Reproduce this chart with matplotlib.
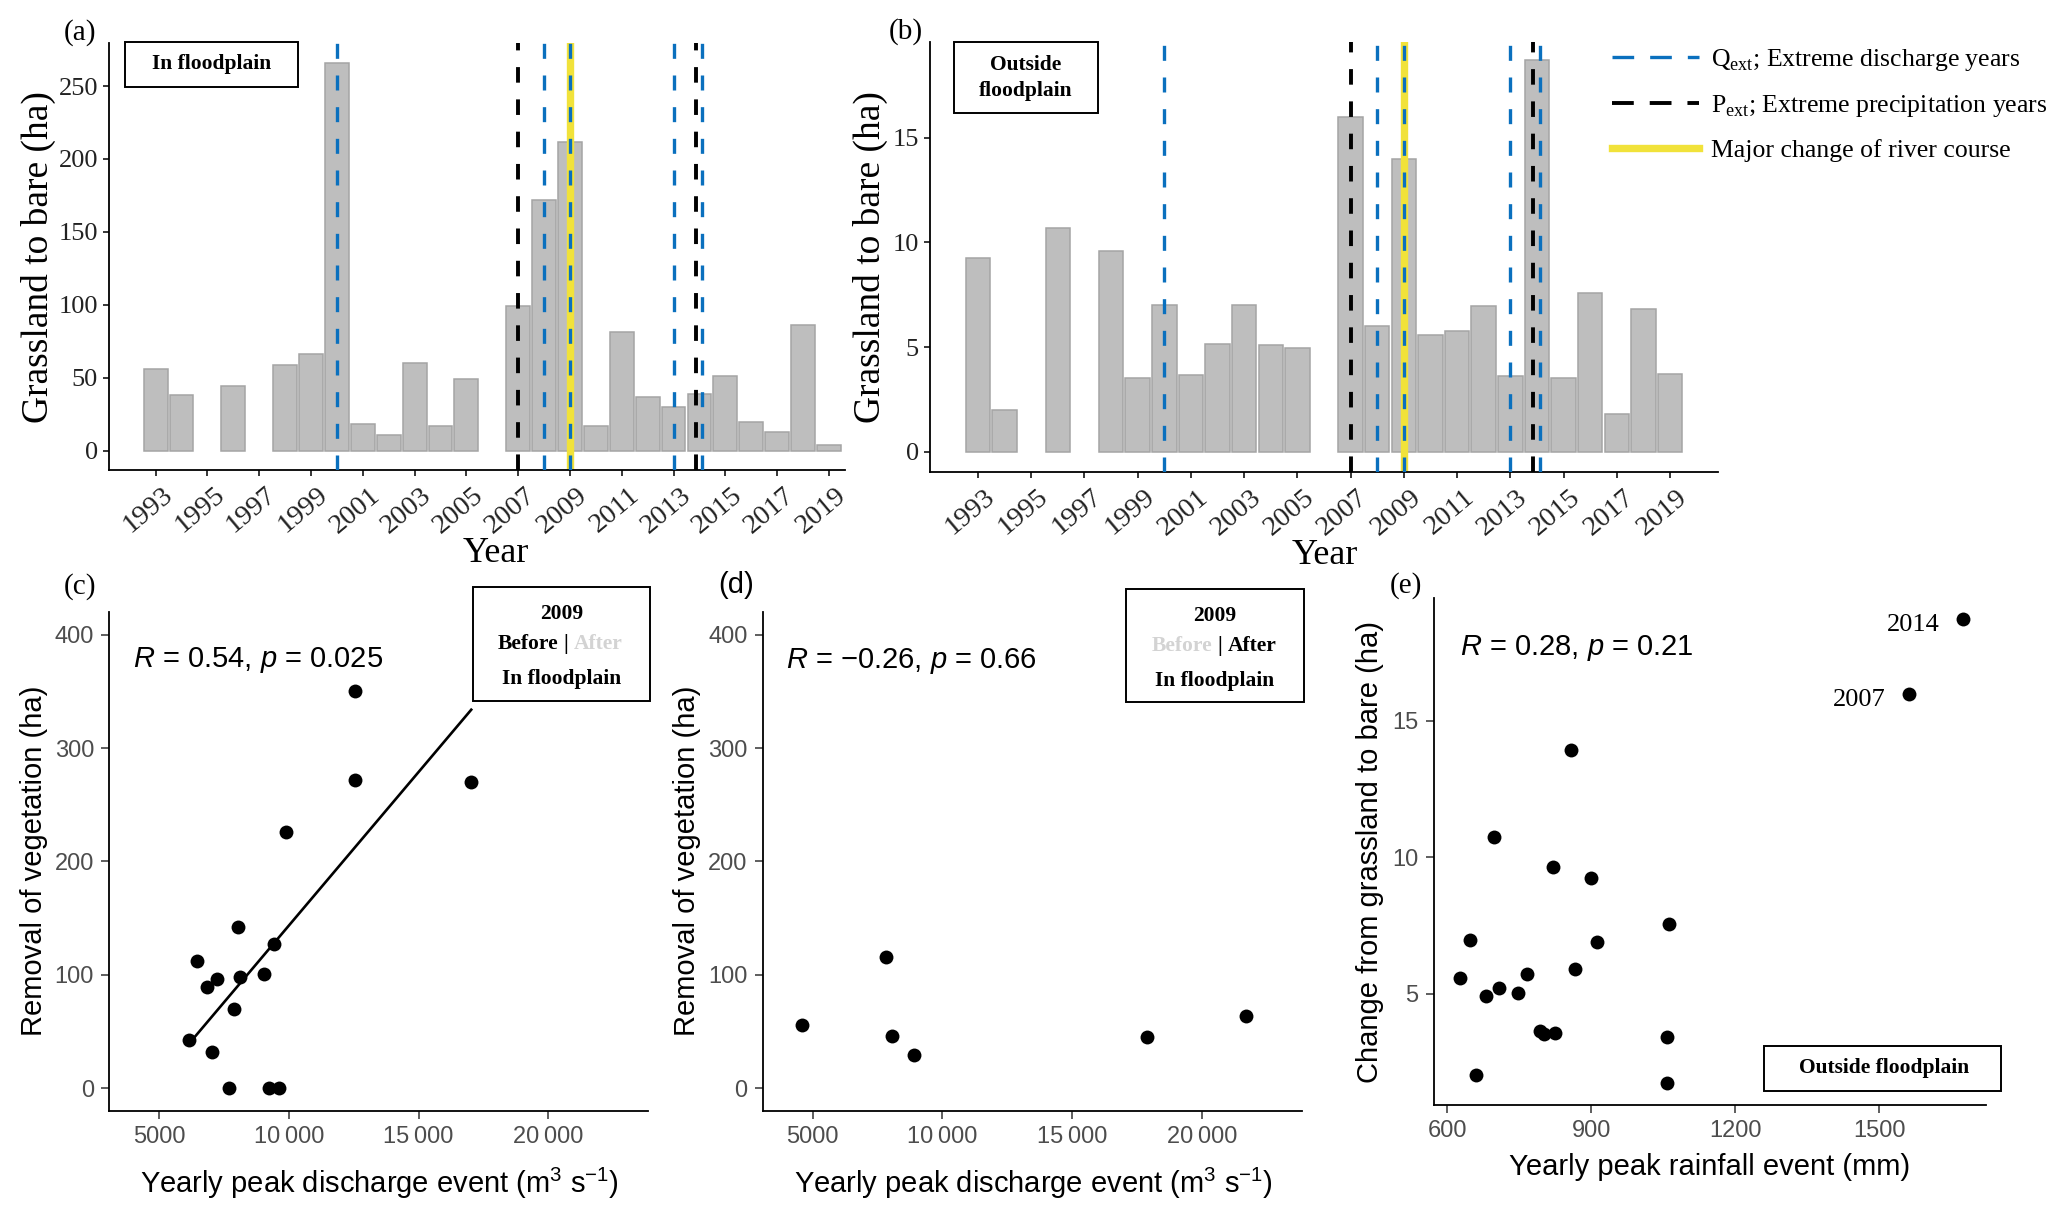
import numpy as np
import matplotlib
matplotlib.use('Agg')
import matplotlib.pyplot as plt
import matplotlib.transforms as mtransforms
from matplotlib.lines import Line2D
from matplotlib.patches import Rectangle

plt.rcParams['mathtext.fontset'] = 'custom'
plt.rcParams['mathtext.rm'] = 'Liberation Sans'
plt.rcParams['mathtext.it'] = 'Liberation Sans:italic'

SERIF = ['Liberation Serif', 'DejaVu Serif']
SANS = ['Liberation Sans', 'DejaVu Sans']

#------------------ Datos
# (a), (b) barras por año
years = [1993, 1994, 1996, 1998, 1999, 2000, 2001, 2002, 2003, 2004, 2005,
         2007, 2008, 2009, 2010, 2011, 2012, 2013, 2014, 2015, 2016, 2017, 2018, 2019]
in_floodplain = [56, 38, 44.5, 59, 66.5, 266, 18, 10.5, 60, 17, 49,
                 99, 171.5, 211.5, 17, 81, 37, 30, 39, 51.5, 19.5, 12.5, 86, 3.5]
outside_floodplain = [9.25, 2.0, 10.7, 9.6, 3.5, 7.0, 3.65, 5.15, 7.0, 5.1, 4.95,
                      16.0, 6.0, 14.0, 5.6, 5.75, 6.95, 3.6, 18.7, 3.5, 7.6, 1.8, 6.8, 3.7]
q_ext_years = [2000, 2008, 2009, 2013, 2014]
p_ext_years = [2007, 2014]
river_change_years = [2009]

# (c) antes de 2009, en llanura
discharge_before = [6170, 6480, 6850, 7250, 7030, 7710, 7890, 8050, 8110, 9050,
                    9220, 9430, 9610, 9900, 12540, 12540, 17030]
removal_before = [43, 112, 89, 96, 32, 0, 70, 142, 98, 101,
                  0, 127, 0, 226, 350, 272, 270]
stats_c = r'$R$ = 0.54, $p$ = 0.025'

# (d) después de 2009, en llanura
discharge_after = [4580, 7830, 8060, 8900, 17880, 21670]
removal_after = [56, 116, 46, 29, 45, 64]
stats_d = '$R$ = \u22120.26, $p$ = 0.66'

# (e) fuera de la llanura
rainfall = [627, 648, 660, 680, 698, 707, 748, 765, 793, 802, 819,
            824, 857, 866, 899, 912, 1057, 1057, 1061, 1562, 1675]
change_outside = [5.57, 6.97, 2.03, 4.91, 10.75, 5.21, 5.05, 5.72, 3.65, 3.52, 9.63,
                  3.58, 13.91, 5.93, 9.25, 6.91, 3.43, 1.74, 7.57, 15.98, 18.72]
labelled_years = ['2007', '2014']
labelled_idx = [19, 20]
stats_e = r'$R$ = 0.28, $p$ = 0.21'

discharge_ticks = [5000, 10000, 15000, 20000]
discharge_ticklabels = ['5000', '10\u2009000', '15\u2009000', '20\u2009000']

#------------------ Estilos
BLUE = '#0A70BE'
YELLOW = '#F1E23A'
BAR = '#BEBEBE'
TICKGREY = '#4D4D4D'
W, H = 2067, 1212


def fx(px):
    return px / W


def fy(py):
    return 1 - py / H


def axes_px(left, right, top, bottom):
    return fig.add_axes([fx(left), fy(bottom), (right - left) / W, (bottom - top) / H])


def label_box(x0, x1, y0, y1):
    fig.patches.append(Rectangle((fx(x0), fy(y1)), (x1 - x0) / W, (y1 - y0) / H,
                                 transform=fig.transFigure, facecolor='white',
                                 edgecolor='black', lw=1.4, zorder=5))


def bar_panel(ax, values, xlim, ylim, yticks):
    ax.bar(years, values, width=0.92, color=BAR, edgecolor='#A4A4A4', lw=1.1, zorder=1)
    for yr in river_change_years:
        ax.axvline(yr, color=YELLOW, lw=5.3, zorder=2)
    for yr in q_ext_years:
        off = 0.1 if yr in p_ext_years else 0
        ax.axvline(yr + off, color=BLUE, lw=2.4, ls=(0, (4.5, 5.0)), zorder=4)
    for yr in p_ext_years:
        off = -0.15 if yr in q_ext_years else 0
        ax.axvline(yr + off, color='black', lw=2.8, ls=(0, (4.0, 4.3)), zorder=3)
    ax.set_xlim(*xlim)
    ax.set_ylim(*ylim)
    ax.tick_params(length=4, width=1.1, color='black', labelcolor='#222222', pad=4)
    ax.tick_params(axis='x', pad=5)
    ax.set_yticks(yticks)
    ax.set_xticks(range(1993, 2020, 2))
    ax.set_xticklabels([str(y) for y in range(1993, 2020, 2)], rotation=40,
                       ha='right', va='top', rotation_mode='anchor', family=SERIF,
                       fontsize=20.5)
    shift = mtransforms.ScaledTranslation(6 / 100, 0, fig.dpi_scale_trans)
    for t in ax.get_xticklabels():
        t.set_transform(t.get_transform() + shift)
    for t in ax.get_yticklabels():
        t.set_family(SERIF)
        t.set_fontsize(19)
    for s in ['top', 'right']:
        ax.spines[s].set_visible(False)
    for s in ['left', 'bottom']:
        ax.spines[s].set_linewidth(1.3)


def scatter_panel(ax, xs, ys, xlim, ylim, xticks, yticks):
    ax.scatter(xs, ys, s=100, color='black', zorder=3, linewidths=0)
    ax.set_xlim(*xlim)
    ax.set_ylim(*ylim)
    ax.set_xticks(xticks)
    ax.set_yticks(yticks)
    for t in ax.get_xticklabels() + ax.get_yticklabels():
        t.set_family(SANS)
        t.set_fontsize(17)
    ax.tick_params(length=6, width=1.1, color='#333333', labelcolor=TICKGREY, pad=5)
    for s in ['top', 'right']:
        ax.spines[s].set_visible(False)
    for s in ['left', 'bottom']:
        ax.spines[s].set_linewidth(1.3)


fig = plt.figure(figsize=(W / 100, H / 100), dpi=100)

#------------------ (a)
ax_a = axes_px(109, 845, 43, 470)
bar_panel(ax_a, in_floodplain, (1991.2, 2019.62), (-13.3, 279.5), range(0, 251, 50))
fig.text(fx(38), fy(257), 'Grassland to bare (ha)', rotation=90, ha='center', va='center',
         family=SERIF, fontsize=27)
fig.text(fx(496), fy(553), 'Year', ha='center', va='center', family=SERIF, fontsize=26)
fig.text(fx(80), fy(33), '(a)', ha='center', va='center', family=SERIF, fontsize=21)
label_box(125, 298, 42, 87)
fig.text(fx(211.5), fy(64.5), 'In floodplain', ha='center', va='center', family=SERIF,
         fontsize=15.5, weight='bold', zorder=6)

#------------------ (b)
ax_b = axes_px(930, 1718, 42, 472)
bar_panel(ax_b, outside_floodplain, (1991.2, 2020.8), (-0.97, 19.58), [0, 5, 10, 15])
fig.text(fx(870), fy(257), 'Grassland to bare (ha)', rotation=90, ha='center', va='center',
         family=SERIF, fontsize=27)
fig.text(fx(1325), fy(556), 'Year', ha='center', va='center', family=SERIF, fontsize=26)
fig.text(fx(905.6), fy(32), '(b)', ha='center', va='center', family=SERIF, fontsize=21)
label_box(954, 1098, 42, 113)
fig.text(fx(1026), fy(78), 'Outside\nfloodplain', ha='center', va='center', family=SERIF,
         fontsize=15.5, weight='bold', linespacing=1.35, zorder=6)

# Leyenda
handles = [Line2D([], [], color=BLUE, lw=2.4, ls=(0, (6.5, 4.8))),
           Line2D([], [], color='black', lw=2.8, ls=(0, (5.6, 4.1))),
           Line2D([], [], color=YELLOW, lw=5.3)]
labels = [r'Q$_{\mathregular{ext}}$; Extreme discharge years',
          r'P$_{\mathregular{ext}}$; Extreme precipitation years',
          'Major change of river course']
leg = fig.legend(handles, labels, loc='upper left', bbox_to_anchor=(fx(1612), fy(47)),
                 frameon=False, borderpad=0, borderaxespad=0, handlelength=3.4,
                 handletextpad=0.45, labelspacing=0.78,
                 prop={'family': SERIF, 'size': 18.5})

#------------------ (c)
ax_c = axes_px(109.4, 648, 612, 1111)
scatter_panel(ax_c, discharge_before, removal_before, (3090, 23840), (-20, 420),
              discharge_ticks, range(0, 401, 100))
ax_c.set_xticklabels(discharge_ticklabels)
fit = np.polyfit(discharge_before, removal_before, 1)
xfit = np.array([min(discharge_before), max(discharge_before)])
ax_c.plot(xfit, np.polyval(fit, xfit), color='black', lw=1.9, zorder=2)
fig.text(fx(132.6), fy(660), stats_c, ha='left', va='center', family=SANS, fontsize=21)
fig.text(fx(33.7), fy(861), 'Removal of vegetation (ha)', rotation=90, ha='center',
         va='center', family=SANS, fontsize=21)
fig.text(fx(379.7), fy(1183), r'Yearly peak discharge event (m$^{\mathregular{3}}$ s$^{\mathregular{-1}}$)',
         ha='center', va='center', family=SANS, fontsize=21)
fig.text(fx(80), fy(587), '(c)', ha='center', va='center', family=SERIF, fontsize=21)

#------------------ (d)
ax_d = axes_px(763, 1302, 612, 1111)
scatter_panel(ax_d, discharge_after, removal_after, (3090, 23840), (-20, 420),
              discharge_ticks, range(0, 401, 100))
ax_d.set_xticklabels(discharge_ticklabels)
fig.text(fx(786), fy(661), stats_d, ha='left', va='center', family=SANS, fontsize=21)
fig.text(fx(687.4), fy(861), 'Removal of vegetation (ha)', rotation=90, ha='center',
         va='center', family=SANS, fontsize=21)
fig.text(fx(1033), fy(1183), r'Yearly peak discharge event (m$^{\mathregular{3}}$ s$^{\mathregular{-1}}$)',
         ha='center', va='center', family=SANS, fontsize=21)
fig.text(fx(736), fy(585), '(d)', ha='center', va='center', family=SANS, fontsize=21)


def before_after_box(x0, x1, y0, y1, bar_x, rows_y, grey_before):
    label_box(x0, x1, y0, y1)
    cx = (x0 + x1) / 2
    kw = dict(va='center', family=SERIF, fontsize=15.5, weight='bold', zorder=6)
    fig.text(fx(cx), fy(rows_y[0]), '2009', ha='center', **kw)
    fig.text(fx(bar_x - 8), fy(rows_y[1]), 'Before', ha='right',
             color='#D3D3D3' if grey_before else 'black', **kw)
    fig.text(fx(bar_x), fy(rows_y[1]), '|', ha='center', **kw)
    fig.text(fx(bar_x + 8), fy(rows_y[1]), 'After', ha='left',
             color='black' if grey_before else '#D3D3D3', **kw)
    fig.text(fx(cx), fy(rows_y[2]), 'In floodplain', ha='center', **kw)


before_after_box(473, 650, 587, 701, 566, [614, 644, 679], False)
before_after_box(1126, 1304, 589, 702, 1220, [616, 646, 681], True)

#------------------ (e)
ax_e = axes_px(1434, 1986, 598, 1105)
scatter_panel(ax_e, rainfall, change_outside, (572, 1722), (0.94, 19.48),
              [600, 900, 1200, 1500], [5, 10, 15])
for lab, i in zip(labelled_years, labelled_idx):
    ax_e.annotate(lab, (rainfall[i], change_outside[i]), xytext=(-17, -4.5),
                  textcoords='offset points', ha='right', va='center',
                  family=SERIF, fontsize=19)
fig.text(fx(1459.5), fy(648), stats_e, ha='left', va='center', family=SANS, fontsize=21)
fig.text(fx(1370), fy(851.6), 'Change from grassland to bare (ha)', rotation=90,
         ha='center', va='center', family=SANS, fontsize=21)
fig.text(fx(1710), fy(1167), 'Yearly peak rainfall event (mm)', ha='center', va='center',
         family=SANS, fontsize=21)
fig.text(fx(1406), fy(586), '(e)', ha='center', va='center', family=SERIF, fontsize=21)
label_box(1764, 2001, 1046, 1091)
fig.text(fx(1884), fy(1068.5), 'Outside floodplain', ha='center', va='center', family=SERIF,
         fontsize=15.5, weight='bold', zorder=6)

fig.savefig('out.png', dpi=100)
